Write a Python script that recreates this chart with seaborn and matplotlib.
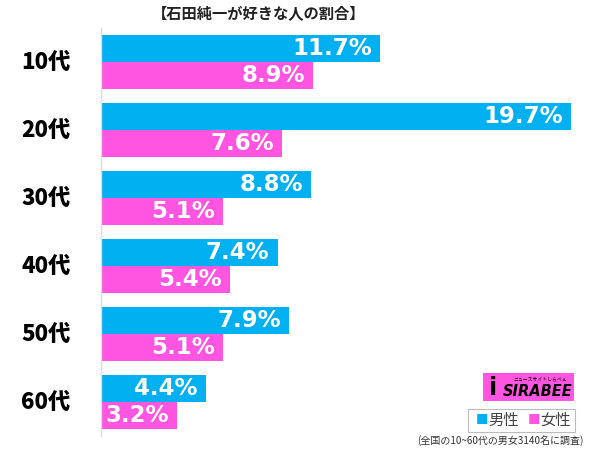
import matplotlib
matplotlib.use("Agg")
import matplotlib.pyplot as plt
import seaborn as sns
import pandas as pd
from matplotlib.patches import Rectangle

categories = ["10代", "20代", "30代", "40代", "50代", "60代"]
male = [11.7, 19.7, 8.8, 7.4, 7.9, 4.4]
female = [8.9, 7.6, 5.1, 5.4, 5.1, 3.2]
series = ["男性", "女性"]
colors = ["#00B0F0", "#FF55E1"]

df = pd.DataFrame({
    "age": categories * 2,
    "value": male + female,
    "sex": [series[0]] * len(categories) + [series[1]] * len(categories),
})

sns.set_theme(style="white")
plt.rcParams["font.family"] = ["Noto Sans CJK JP", "DejaVu Sans"]

W, H = 600, 449
fig = plt.figure(figsize=(6.0, 4.49), dpi=100)
ax = fig.add_axes([101 / W, 13 / H, 489 / W, 408 / H])

sns.barplot(data=df, y="age", x="value", hue="sex", order=categories,
            hue_order=series, palette=colors, orient="h", ax=ax,
            width=0.8, legend=False, saturation=1, edgecolor="none")

px_per_unit = 470 / 19.7
ax.set_xlim(0, 489 / px_per_unit)
ax.set_ylim(5.5, -0.5)

for c in ax.containers:
    for bar in c:
        w = bar.get_width()
        y = bar.get_y() + bar.get_height() / 2
        ax.text(w - 8 / px_per_unit, y, f"{w:.1f}%", ha="right", va="center",
                color="white", fontsize=16.5, fontweight="bold",
                family="DejaVu Sans")

ax.set_xlabel("")
ax.set_ylabel("")
ax.set_xticks([])
ax.set_yticks(range(len(categories)))
ax.set_yticklabels([])
for i, cat in enumerate(categories):
    ax.text(-55 / px_per_unit, i, cat, ha="center", va="center",
            fontsize=16, fontweight="black", color="black")
ax.tick_params(left=False)
for s in ["top", "right", "bottom"]:
    ax.spines[s].set_visible(False)
ax.spines["left"].set_color("#dddddd")
ax.spines["left"].set_linewidth(1)

fig.text(259 / W, 1 - 13 / H, "【石田純一が好きな人の割合】", ha="center", va="center",
         fontsize=11, fontweight="bold", color="#222222")

# logo
fig.patches.append(Rectangle((483 / W, 1 - 401 / H), 91 / W, 28 / H,
                             transform=fig.transFigure, facecolor="#FF55E1",
                             edgecolor="none"))
fig.text(493 / W, 1 - 388 / H, "i", ha="center", va="center",
         fontsize=17, fontweight="bold", color="black", family="DejaVu Sans")
fig.text(538 / W, 1 - 391 / H, "SIRABEE", ha="center", va="center",
         fontsize=10.5, fontweight="bold", style="italic", color="black",
         family="DejaVu Sans")
fig.text(540 / W, 1 - 379 / H, "ニュースサイトしらべぇ", ha="center", va="center",
         fontsize=3.5, color="black")

# legend
fig.patches.append(Rectangle((468 / W, 1 - 432 / H), 107 / W, 23 / H,
                             transform=fig.transFigure, facecolor="white",
                             edgecolor="#bbbbbb", linewidth=0.8))
fig.text(476 / W, 1 - 420.5 / H, "■", ha="left", va="center", fontsize=9,
         color=colors[0])
fig.text(488 / W, 1 - 420.5 / H, "男性", ha="left", va="center", fontsize=11,
         color="#444444")
fig.text(528 / W, 1 - 420.5 / H, "■", ha="left", va="center", fontsize=9,
         color=colors[1])
fig.text(540 / W, 1 - 420.5 / H, "女性", ha="left", va="center", fontsize=11,
         color="#444444")

fig.text(583 / W, 1 - 441 / H, "(全国の10~60代の男女3140名に調査)", ha="right",
         va="center", fontsize=7.2, color="#333333")

fig.savefig("out.png", dpi=100)
